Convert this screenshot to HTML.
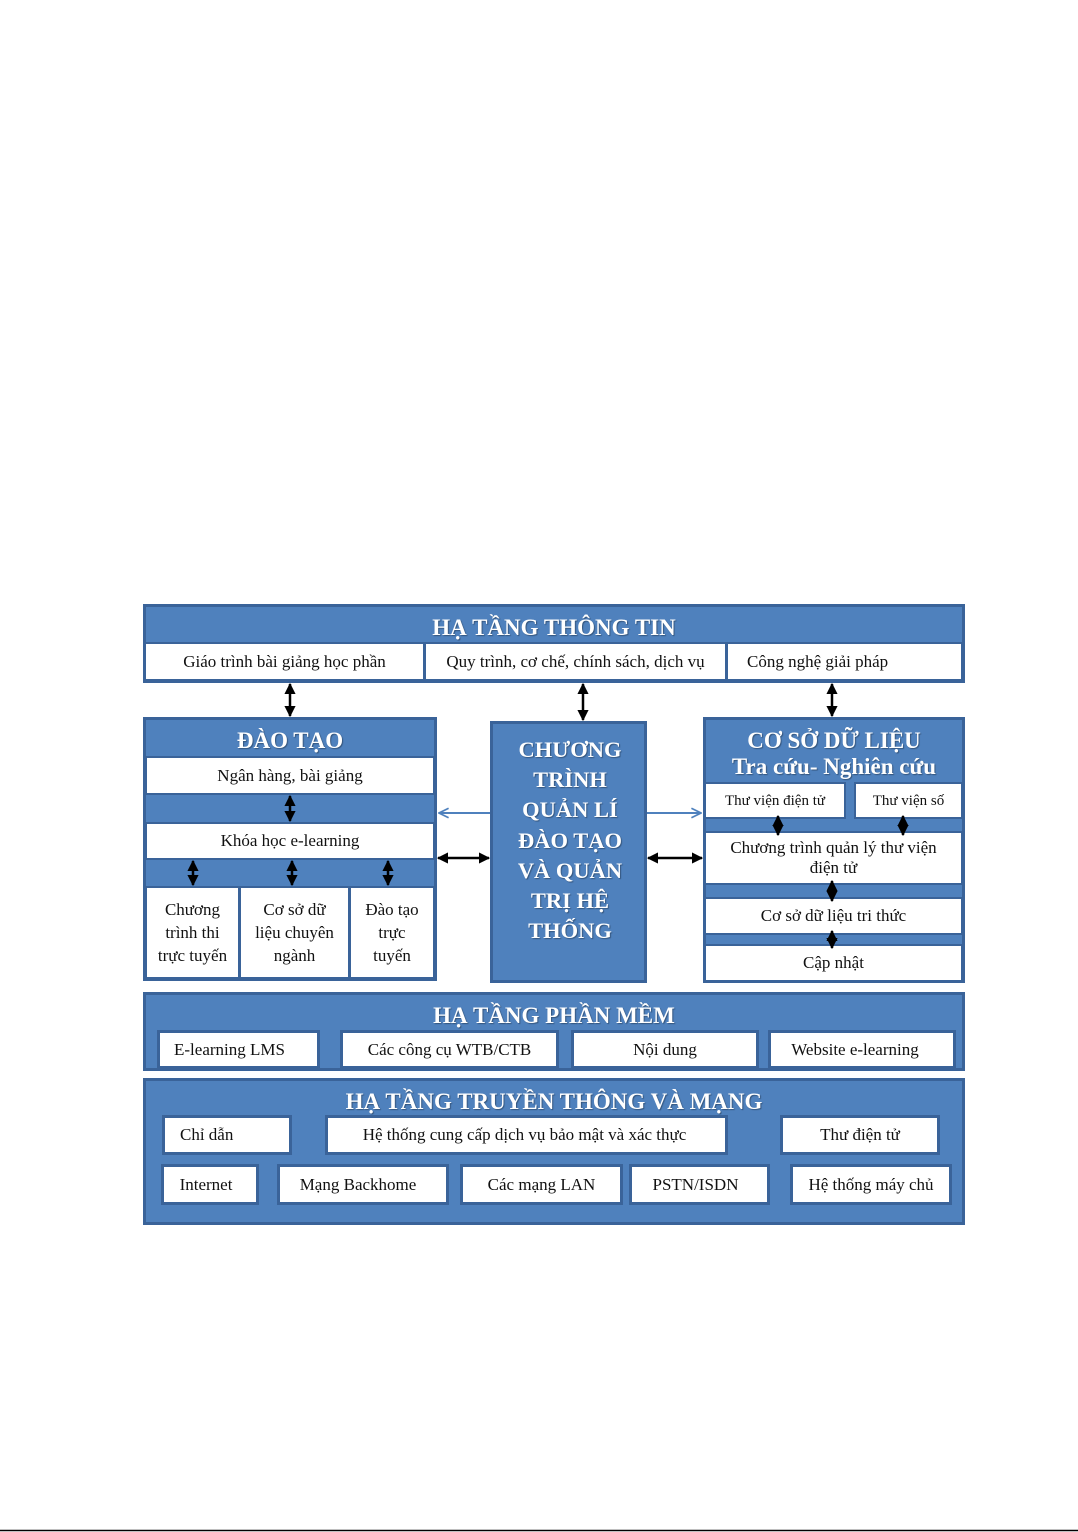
<!DOCTYPE html>
<html><head><meta charset="utf-8">
<style>
html,body{margin:0;padding:0;background:#fff;}
body{width:1078px;height:1532px;position:relative;overflow:hidden;font-family:"Liberation Serif","DejaVu Serif",serif;}
.o{position:absolute;box-sizing:border-box;background:#4f81bd;border:3px solid #3a6399;}
.c{position:absolute;box-sizing:border-box;background:#fff;border:2px solid #3a6399;color:#111;font-size:17px;display:flex;align-items:center;justify-content:center;text-align:center;line-height:20px;white-space:nowrap;}
.t{position:absolute;color:#fff;font-weight:bold;text-align:center;white-space:nowrap;text-shadow:1px 1px 1px rgba(0,0,0,.35);}
svg{position:absolute;left:0;top:0;}
</style></head><body>

<!-- HẠ TẦNG THÔNG TIN -->
<div class="o" style="left:143px;top:604px;width:822px;height:79px;"></div>
<div class="t" style="left:143px;top:614px;width:822px;font-size:23px;line-height:28px;">HẠ TẦNG THÔNG TIN</div>
<div class="c" style="left:144px;top:642px;width:281px;height:39px;">Giáo trình bài giảng học phần</div>
<div class="c" style="left:424px;top:642px;width:303px;height:39px;">Quy trình, cơ chế, chính sách, dịch vụ</div>
<div class="c" style="left:726px;top:642px;width:237px;height:39px;justify-content:flex-start;padding-left:19px;">Công nghệ giải pháp</div>

<!-- ĐÀO TẠO -->
<div class="o" style="left:143px;top:717px;width:294px;height:264px;"></div>
<div class="t" style="left:143px;top:727px;width:294px;font-size:23px;line-height:28px;">ĐÀO TẠO</div>
<div class="c" style="left:145px;top:756px;width:290px;height:39px;">Ngân hàng, bài giảng</div>
<div class="c" style="left:145px;top:822px;width:290px;height:38px;">Khóa học e-learning</div>
<div class="c" style="left:145px;top:886px;width:95px;height:93px;line-height:23px;white-space:normal;">Chương<br>trình thi<br>trực tuyến</div>
<div class="c" style="left:239px;top:886px;width:111px;height:93px;line-height:23px;white-space:normal;">Cơ sở dữ<br>liệu chuyên<br>ngành</div>
<div class="c" style="left:349px;top:886px;width:86px;height:93px;line-height:23px;white-space:normal;">Đào tạo<br>trực<br>tuyến</div>

<!-- CENTER -->
<div class="o" style="left:490px;top:721px;width:157px;height:262px;"></div>
<div class="t" style="left:490px;top:735px;width:160px;font-size:22.5px;line-height:30.2px;">CHƯƠNG<br>TRÌNH<br>QUẢN LÍ<br>ĐÀO TẠO<br>VÀ QUẢN<br>TRỊ HỆ<br>THỐNG</div>

<!-- CƠ SỞ DỮ LIỆU -->
<div class="o" style="left:703px;top:717px;width:262px;height:266px;"></div>
<div class="t" style="left:703px;top:728px;width:262px;font-size:23px;line-height:26px;">CƠ SỞ DỮ LIỆU<br>Tra cứu- Nghiên cứu</div>
<div class="c" style="left:704px;top:782px;width:142px;height:37px;font-size:15px;">Thư viện điện tử</div>
<div class="c" style="left:854px;top:782px;width:109px;height:37px;font-size:15px;">Thư viện số</div>
<div class="c" style="left:704px;top:831px;width:259px;height:54px;white-space:normal;line-height:20px;">Chương trình quản lý thư viện<br>điện tử</div>
<div class="c" style="left:704px;top:897px;width:259px;height:38px;">Cơ sở dữ liệu tri thức</div>
<div class="c" style="left:704px;top:944px;width:259px;height:38px;">Cập nhật</div>

<!-- HẠ TẦNG PHẦN MỀM -->
<div class="o" style="left:143px;top:992px;width:822px;height:79px;"></div>
<div class="t" style="left:143px;top:1002px;width:822px;font-size:23px;line-height:28px;">HẠ TẦNG PHẦN MỀM</div>
<div class="c" style="left:157px;top:1030px;width:163px;height:39px;border-width:3px;justify-content:flex-start;padding-left:14px;">E-learning LMS</div>
<div class="c" style="left:340px;top:1030px;width:219px;height:39px;border-width:3px;">Các công cụ WTB/CTB</div>
<div class="c" style="left:571px;top:1030px;width:188px;height:39px;border-width:3px;">Nội dung</div>
<div class="c" style="left:768px;top:1030px;width:188px;height:39px;border-width:3px;padding-right:14px;">Website e-learning</div>

<!-- HẠ TẦNG TRUYỀN THÔNG VÀ MẠNG -->
<div class="o" style="left:143px;top:1078px;width:822px;height:147px;"></div>
<div class="t" style="left:143px;top:1088px;width:822px;font-size:23px;line-height:28px;">HẠ TẦNG TRUYỀN THÔNG VÀ MẠNG</div>
<div class="c" style="left:162px;top:1115px;width:130px;height:40px;border-width:3px;justify-content:flex-start;padding-left:15px;">Chỉ dẫn</div>
<div class="c" style="left:325px;top:1115px;width:403px;height:40px;border-width:3px;padding-right:4px;">Hệ thống cung cấp dịch vụ bảo mật và xác thực</div>
<div class="c" style="left:780px;top:1115px;width:160px;height:40px;border-width:3px;">Thư điện tử</div>
<div class="c" style="left:161px;top:1164px;width:98px;height:41px;border-width:3px;padding-right:8px;">Internet</div>
<div class="c" style="left:277px;top:1164px;width:172px;height:41px;border-width:3px;padding-right:10px;">Mạng Backhome</div>
<div class="c" style="left:460px;top:1164px;width:163px;height:41px;border-width:3px;">Các mạng LAN</div>
<div class="c" style="left:629px;top:1164px;width:141px;height:41px;border-width:3px;padding-right:8px;">PSTN/ISDN</div>
<div class="c" style="left:790px;top:1164px;width:162px;height:41px;border-width:3px;">Hệ thống máy chủ</div>

<svg width="1078" height="1532" viewBox="0 0 1078 1532">
<defs>
<marker id="ah" viewBox="0 0 10 10" refX="9" refY="5" markerWidth="4.5" markerHeight="4.5" orient="auto-start-reverse" markerUnits="strokeWidth">
<path d="M0,0 L10,5 L0,10 Z" fill="#000"/>
</marker>
<marker id="bh" viewBox="0 0 10 10" refX="9" refY="5" markerWidth="6" markerHeight="6" orient="auto" markerUnits="strokeWidth">
<path d="M1,1 L9,5 L1,9" fill="none" stroke="#4f81bd" stroke-width="1.4"/>
</marker>
</defs>
<g stroke="#000" stroke-width="2.5" fill="none" marker-start="url(#ah)" marker-end="url(#ah)">
<line x1="290" y1="684" x2="290" y2="716"/>
<line x1="583" y1="684" x2="583" y2="720"/>
<line x1="832" y1="684" x2="832" y2="716"/>
<line x1="290" y1="796" x2="290" y2="821"/>
<line x1="193" y1="861" x2="193" y2="885"/>
<line x1="292" y1="861" x2="292" y2="885"/>
<line x1="388" y1="861" x2="388" y2="885"/>
<line x1="778" y1="816" x2="778" y2="835"/>
<line x1="903" y1="816" x2="903" y2="835"/>
<line x1="832" y1="881" x2="832" y2="901"/>
<line x1="832" y1="931" x2="832" y2="948"/>
<line x1="438" y1="858" x2="489" y2="858"/>
<line x1="648" y1="858" x2="702" y2="858"/>
</g>
<g stroke="#4f81bd" stroke-width="2" fill="none" marker-end="url(#bh)">
<line x1="490" y1="813" x2="439" y2="813"/>
<line x1="647" y1="813" x2="701" y2="813"/>
</g>
<line x1="0" y1="1530.5" x2="1078" y2="1530.5" stroke="#000" stroke-width="1.5"/>
</svg>
</body></html>
